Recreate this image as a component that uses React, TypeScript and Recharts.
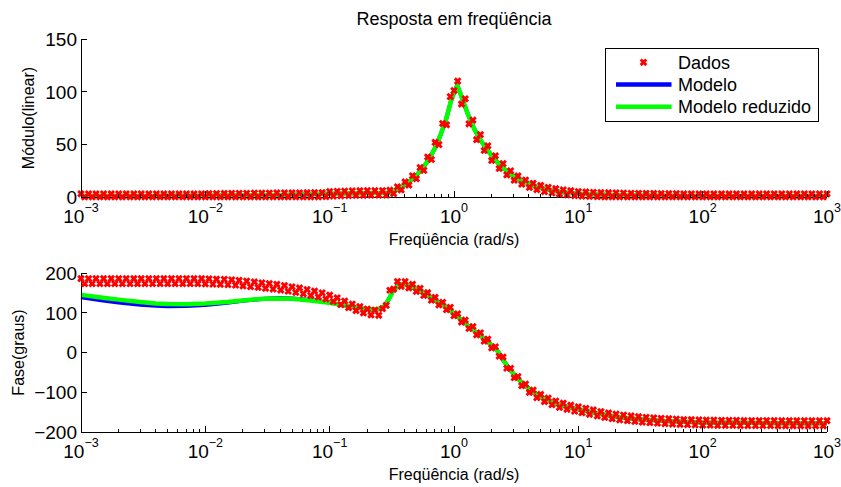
import React from "react";
import { LineChart, Line, XAxis, YAxis, Legend } from "recharts";

// frequências das medidas (rad/s)
const freq = [
  0.001, 0.00107, 0.00115, 0.00123, 0.00132, 0.00142, 0.00152, 0.00163, 0.00175, 0.00187, 0.00201,
  0.00215, 0.00231, 0.00248, 0.00266, 0.00285, 0.00305, 0.00327, 0.00351, 0.00376, 0.00404, 0.00433,
  0.00464, 0.00498, 0.00534, 0.00572, 0.00614, 0.00658, 0.00705, 0.00756, 0.00811, 0.0087, 0.00933,
  0.01, 0.0107, 0.0115, 0.0123, 0.0132, 0.0142, 0.0152, 0.0163, 0.0175, 0.0187, 0.0201,
  0.0215, 0.0231, 0.0248, 0.0266, 0.0285, 0.0305, 0.0327, 0.0351, 0.0376, 0.0404, 0.0433,
  0.0464, 0.0498, 0.0534, 0.0572, 0.0614, 0.0658, 0.0705, 0.0756, 0.0811, 0.087, 0.0933,
  0.1, 0.107, 0.115, 0.123, 0.132, 0.142, 0.152, 0.163, 0.175, 0.187, 0.201,
  0.215, 0.231, 0.248, 0.266, 0.285, 0.305, 0.327, 0.351, 0.376, 0.404, 0.433,
  0.464, 0.498, 0.534, 0.572, 0.614, 0.658, 0.705, 0.756, 0.811, 0.87, 0.933,
  1, 1.07, 1.15, 1.23, 1.32, 1.42, 1.52, 1.63, 1.75, 1.87, 2.01,
  2.15, 2.31, 2.48, 2.66, 2.85, 3.05, 3.27, 3.51, 3.76, 4.04, 4.33,
  4.64, 4.98, 5.34, 5.72, 6.14, 6.58, 7.05, 7.56, 8.11, 8.7, 9.33,
  10, 10.7, 11.5, 12.3, 13.2, 14.2, 15.2, 16.3, 17.5, 18.7, 20.1,
  21.5, 23.1, 24.8, 26.6, 28.5, 30.5, 32.7, 35.1, 37.6, 40.4, 43.3,
  46.4, 49.8, 53.4, 57.2, 61.4, 65.8, 70.5, 75.6, 81.1, 87, 93.3,
  100, 107, 115, 123, 132, 142, 152, 163, 175, 187, 201,
  215, 231, 248, 266, 285, 305, 327, 351, 376, 404, 433,
  464, 498, 534, 572, 614, 658, 705, 756, 811, 870, 933,
  1000,
];

const dadosModulo = [
  3.0, 0, 3.0, 0, 3.0, 0, 3.0, 0, 3.0, 0, 3.0,
  0, 3.0, 0, 3.0, 0, 3.0, 0, 3.0, 0, 3.0, 0,
  3.1, 0, 3.1, 0, 3.1, 0, 3.1, 0, 3.1, 0, 3.1,
  0, 3.3, 0, 3.3, 0, 3.4, 0, 3.5, 0, 3.6, 0,
  3.6, 0, 3.7, 0, 3.7, 0, 3.8, 0, 3.9, 0, 3.9,
  0, 4.0, 0, 4.0, 0, 4.1, 0, 4.2, 0.1, 4.2, 0.2,
  5.2, 0.9, 5.4, 1.1, 5.6, 1.3, 5.8, 1.5, 6.0, 1.6, 6.1,
  1.7, 6.1, 1.7, 6.1, 1.7, 6.5, 3.2, 9.7, 6.7, 14.3, 11.3,
  20.2, 17.3, 28.0, 25.3, 38.0, 35.6, 51.8, 49.7, 69.8, 68.5, 95.3,
  101, 110, 88.2, 93.2, 69.4, 73.0, 54.4, 59.2, 44.1, 48.6, 34.7,
  39.1, 27.1, 31.7, 21.0, 24.8, 15.9, 20.0, 12.1, 16.1, 9.1, 13.1,
  6.9, 11.0, 5.1, 9.3, 3.8, 7.9, 2.8, 6.9, 2.0, 6.0, 1.2,
  5.2, 0.8, 4.8, 0.5, 4.5, 0.2, 4.3, 0, 4.1, 0, 3.9,
  0, 3.8, 0, 3.6, 0, 3.5, 0, 3.4, 0, 3.4, 0,
  3.3, 0, 3.2, 0, 3.2, 0, 3.1, 0, 3.1, 0, 3.1,
  0, 3.0, 0, 3.0, 0, 3.0, 0, 3.0, 0, 3.0, 0,
  3.0, 0, 3.0, 0, 3.0, 0, 3.0, 0, 3.0, 0, 3.0,
  0, 3.0, 0, 3.0, 0, 3.0, 0, 3.0, 0, 3.0, 0,
  3.0,
];

const dadosFase = [
  186, 173, 186, 173, 186, 173, 186, 173, 186, 173, 186,
  173, 186, 173, 186, 173, 186, 173, 186, 173, 186, 173,
  186, 173, 186, 173, 186, 173, 186, 173, 186, 173, 186,
  172.5, 185.5, 172, 184.5, 171.5, 184, 170.5, 183, 169.5, 181.5, 167.5,
  179.5, 165.5, 177.5, 163.5, 175.5, 161.5, 173.5, 159.5, 171.5, 157, 168.5,
  154, 165.5, 151, 162.5, 147.5, 158.5, 143.5, 154.5, 139.5, 150, 134.5,
  144.5, 128.5, 137.5, 120.5, 129.5, 112.5, 122, 105.5, 115.5, 99.5, 109.5,
  94.5, 106.5, 93.5, 110.5, 118.5, 156.5, 159.5, 178.5, 166.5, 178.5, 162.5,
  171.5, 153.5, 161.5, 143.5, 150.5, 131.5, 138.5, 119.5, 126.5, 107.5, 113.5,
  92.5, 97.5, 76.5, 81.5, 60.5, 65.5, 44.5, 49.5, 28.5, 33.5, 11.5,
  14.5, -9.5, -11.5, -39.5, -39.5, -63.5, -60.5, -83.5, -79.5, -100.5, -94.5,
  -113.5, -105.5, -123.5, -114.5, -131.5, -122, -138, -127.5, -143, -132.5, -147.5,
  -136.5, -151.5, -140.5, -155.5, -144.5, -159.5, -148.5, -163.5, -152, -166.5, -155,
  -169.5, -157.5, -171.5, -159.5, -173.5, -161.5, -175.5, -163, -176.5, -164.5, -178,
  -165.5, -179, -166.5, -180, -167.5, -181, -168.5, -181.5, -169, -182.5, -169.5,
  -183, -170, -183, -170, -183.5, -170.5, -183.5, -170.5, -183.5, -170.5, -184,
  -171, -184, -171, -184, -171, -184, -171, -184, -171, -184.5, -171.5,
  -184.5, -171.5, -184.5, -171.5, -184.5, -171.5, -184.5, -171.5, -184.5, -171.5, -184.5,
  -171.5,
];

// curvas dos modelos
const modeloFreq = [
  0.001, 0.0015, 0.002, 0.003, 0.004, 0.005, 0.007, 0.01, 0.015, 0.02,
  0.03, 0.04, 0.05, 0.07, 0.1, 0.13, 0.16, 0.2, 0.23, 0.26,
  0.28, 0.3, 0.32, 0.35, 0.38, 0.42, 0.46, 0.5, 0.56, 0.63,
  0.7, 0.78, 0.86, 0.94, 1.0, 1.06, 1.12, 1.2, 1.3, 1.45,
  1.6, 1.8, 2.0, 2.25, 2.5, 2.8, 3.2, 3.6, 4.2, 5,
  6, 7.5, 10, 14, 20, 30, 50, 100, 200, 500,
  1000,
];

const modeloModulo = [
  1.0, 1.0, 1.0, 1.05, 1.05, 1.1, 1.1, 1.2, 1.35, 1.5,
  1.8, 2.0, 2.2, 2.6, 3.0, 3.35, 3.65, 3.9, 3.9, 3.9,
  3.9, 4.0, 5.0, 7.2, 9.6, 13, 16.8, 20.7, 27.5, 36,
  46, 59, 73, 90, 99, 106, 99, 89, 78, 65,
  55.5, 47, 39.5, 32.5, 27.5, 22.3, 17.8, 14.5, 11.3, 8.5,
  6.4, 4.6, 3.1, 2.35, 1.8, 1.45, 1.2, 1.0, 0.95, 0.9,
  0.9,
];

const reduzidoModulo = [
  1.0, 1.0, 1.0, 1.05, 1.05, 1.1, 1.1, 1.2, 1.35, 1.5,
  1.8, 2.0, 2.2, 2.6, 3.0, 3.35, 3.65, 3.9, 3.9, 3.9,
  3.9, 4.0, 5.0, 7.2, 9.6, 13, 16.8, 20.7, 27.5, 36,
  46, 59, 73, 90, 99, 106, 99, 89, 78, 65,
  55.5, 47, 39.5, 32.5, 27.5, 22.3, 17.8, 14.5, 11.3, 8.5,
  6.4, 4.6, 3.1, 2.35, 1.8, 1.45, 1.2, 1.0, 0.95, 0.9,
  0.9,
];

const modeloFase = [
  139, 131, 126, 120, 117.5, 116.5, 117, 119.5, 125, 130,
  135.5, 137, 136, 132, 125.5, 119, 113.5, 108.5, 107.5, 110.5,
  118.5, 135, 152, 167, 172, 170, 165, 159, 151, 141,
  132, 123, 115, 105, 98, 91, 85, 77, 67, 55,
  45, 31, 19, 3, -20, -42, -63, -79, -96, -112,
  -124, -134, -143, -153, -161.5, -168, -172.5, -176, -177, -178,
  -178,
];

const reduzidoFase = [
  145, 138, 133, 127, 123.5, 122, 121.5, 123, 127, 131,
  135.5, 136, 135, 131, 125, 119, 114, 109, 108, 111,
  119, 135, 152, 167, 172, 170, 165, 159, 151, 141,
  132, 123, 115, 105, 98, 91, 85, 77, 67, 55,
  45, 31, 19, 3, -20, -42, -63, -79, -96, -112,
  -124, -134, -143, -153, -161.5, -168, -172.5, -176, -177, -178,
  -178,
];

const xMajor = [0.001, 0.01, 0.1, 1, 10, 100, 1000];
const xExp = ["\u22123", "\u22122", "\u22121", "0", "1", "2", "3"];
const xMinor = [
  0.002, 0.003, 0.004, 0.005, 0.006, 0.007, 0.008, 0.009,
  0.02, 0.03, 0.04, 0.05, 0.06, 0.07, 0.08, 0.09,
  0.2, 0.3, 0.4, 0.5, 0.6, 0.7, 0.8, 0.9,
  2, 3, 4, 5, 6, 7, 8, 9,
  20, 30, 40, 50, 60, 70, 80, 90,
  200, 300, 400, 500, 600, 700, 800, 900,
];
const moduloTicks = [0, 50, 100, 150];
const faseTicks = [-200, -100, 0, 100, 200];

const RED = "#ff0000";
const BLUE = "#0000ff";
const GREEN = "#00ff00";
const FONT = '"Liberation Sans", Arial, Helvetica, sans-serif';
const xTicks = [...xMajor, ...xMinor];
const axisStyle = { stroke: "#000", strokeWidth: 1, shapeRendering: "crispEdges" };

const pts = (xs: number[], ys: number[]) => xs.map((f, i) => ({ f, v: ys[i] }));

function XMark({ cx, cy }: { cx: number; cy: number }) {
  const r = 2.8;
  return (
    <path
      d={`M${cx - r},${cy - r}L${cx + r},${cy + r}M${cx - r},${cy + r}L${cx + r},${cy - r}`}
      stroke={RED}
      strokeWidth={2.9}
      fill="none"
    />
  );
}

const renderDot = (p: any) =>
  p.cx == null || p.cy == null ? <g key={`d-${p.index}`} /> : <XMark key={`d-${p.index}`} cx={p.cx} cy={p.cy} />;

function XTick(props: any) {
  const { x, y, payload, side } = props;
  const idx = xMajor.indexOf(payload.value);
  const len = idx >= 0 ? 6 : 3.5;
  const dir = side === "top" ? 1 : -1;
  return (
    <g>
      <line x1={x} x2={x} y1={y} y2={y + dir * len} stroke="#000" shapeRendering="crispEdges" />
      {side === "bottom" && idx >= 0 && (
        <text x={x} y={y + 26} textAnchor="middle" fontSize={19} fill="#000">
          10
          <tspan dy={-11} fontSize={12.5}>
            {xExp[idx]}
          </tspan>
        </text>
      )}
    </g>
  );
}

function YTick(props: any) {
  const { x, y, payload, side } = props;
  const dir = side === "left" ? 1 : -1;
  const v = payload.value as number;
  const txt = v < 0 ? "\u2212" + Math.abs(v) : String(v);
  return (
    <g>
      <line x1={x} x2={x + dir * 6} y1={y} y2={y} stroke="#000" shapeRendering="crispEdges" />
      {side === "left" && (
        <text x={x - 4} y={y} dy="0.36em" textAnchor="end" fontSize={19} fill="#000">
          {txt}
        </text>
      )}
    </g>
  );
}

function XTitle(props: any) {
  const vb = props.viewBox;
  return (
    <text x={vb.x + vb.width / 2} y={vb.y + 47.5} textAnchor="middle" fontSize={16} fill="#000">
      Freqüência (rad/s)
    </text>
  );
}

function YTitle(props: any) {
  const vb = props.viewBox;
  const cy = vb.y + vb.height / 2;
  const bx = props.baseX;
  return (
    <text x={bx} y={cy} transform={`rotate(-90 ${bx} ${cy})`} textAnchor="middle" fontSize={16} fill="#000">
      {props.text}
    </text>
  );
}

function LegendBox(props: any) {
  const items = props.payload ?? [];
  return (
    <svg width={214} height={74} style={{ display: "block" }}>
      <rect x={0.5} y={0.5} width={213} height={73} fill="#fff" stroke="#000" />
      {items.map((it: any, i: number) => {
        const cy = 14.3 + i * 22.2;
        return (
          <g key={it.value}>
            {it.value === "Dados" ? (
              <XMark cx={38.5} cy={cy} />
            ) : (
              <line x1={11} x2={66.5} y1={cy} y2={cy} stroke={it.color} strokeWidth={4.5} />
            )}
            <text x={73} y={cy} dy="0.35em" fontSize={18} fill="#000">
              {it.value}
            </text>
          </g>
        );
      })}
    </svg>
  );
}

type PainelProps = {
  h: number;
  top: number;
  bottom: number;
  yDomain: [number, number];
  yTicks: number[];
  yLabel: string;
  yLabelX: number;
  dados: number[];
  modelo: number[];
  reduzido: number[];
  legenda?: boolean;
};

function Painel(p: PainelProps) {
  return (
    <LineChart width={841} height={p.h} margin={{ top: p.top, right: 14, bottom: 0, left: 0 }}>
      <XAxis
        dataKey="f"
        type="number"
        scale="log"
        domain={[0.001, 1000]}
        ticks={xTicks}
        interval={0}
        tickSize={0}
        tickMargin={0}
        tickLine={false}
        axisLine={axisStyle}
        tick={<XTick side="bottom" />}
        height={p.bottom}
        label={<XTitle />}
      />
      <XAxis
        xAxisId="top"
        orientation="top"
        dataKey="f"
        type="number"
        scale="log"
        domain={[0.001, 1000]}
        allowDataOverflow
        ticks={xTicks}
        interval={0}
        tickSize={0}
        tickMargin={0}
        tickLine={false}
        axisLine={axisStyle}
        tick={<XTick side="top" />}
        height={0}
      />
      <YAxis
        type="number"
        domain={p.yDomain}
        ticks={p.yTicks}
        interval={0}
        width={81}
        tickSize={0}
        tickMargin={0}
        tickLine={false}
        axisLine={axisStyle}
        tick={<YTick side="left" />}
        label={<YTitle text={p.yLabel} baseX={p.yLabelX} />}
      />
      <YAxis
        yAxisId="right"
        orientation="right"
        type="number"
        domain={p.yDomain}
        allowDataOverflow
        ticks={p.yTicks}
        interval={0}
        width={0}
        tickSize={0}
        tickMargin={0}
        tickLine={false}
        axisLine={axisStyle}
        tick={<YTick side="right" />}
      />
      <Line
        data={pts(freq, p.dados)}
        dataKey="v"
        name="Dados"
        stroke={RED}
        strokeWidth={0}
        dot={renderDot}
        activeDot={false}
        isAnimationActive={false}
      />
      <Line
        data={pts(modeloFreq, p.modelo)}
        dataKey="v"
        name="Modelo"
        type="linear"
        stroke={BLUE}
        strokeWidth={4}
        strokeLinejoin="round"
        dot={false}
        activeDot={false}
        isAnimationActive={false}
      />
      <Line
        data={pts(modeloFreq, p.reduzido)}
        dataKey="v"
        name="Modelo reduzido"
        type="linear"
        stroke={GREEN}
        strokeWidth={4.5}
        strokeLinejoin="round"
        dot={false}
        activeDot={false}
        isAnimationActive={false}
      />
      {p.legenda && (
        <Legend
          layout="vertical"
          align="center"
          verticalAlign="middle"
          content={<LegendBox />}
          wrapperStyle={{ left: 605, top: 48, width: 214, height: 74 }}
        />
      )}
    </LineChart>
  );
}

export default function App() {
  return (
    <div style={{ position: "absolute", left: 0, top: 0, width: 841, height: 487, background: "#fff", fontFamily: FONT }}>
      <svg width={841} height={32} style={{ position: "absolute", left: 0, top: 0 }}>
        <text x={454} y={25} textAnchor="middle" fontSize={18} fill="#000">
          Resposta em freqüência
        </text>
      </svg>
      <div style={{ position: "absolute", left: 0, top: 0 }}>
        <Painel
          h={250}
          top={39}
          bottom={53}
          yDomain={[0, 150]}
          yTicks={moduloTicks}
          yLabel="Módulo(linear)"
          yLabelX={33.5}
          dados={dadosModulo}
          modelo={modeloModulo}
          reduzido={reduzidoModulo}
          legenda
        />
      </div>
      <div style={{ position: "absolute", left: 0, top: 240 }}>
        <Painel
          h={247}
          top={33}
          bottom={55}
          yDomain={[-200, 200]}
          yTicks={faseTicks}
          yLabel="Fase(graus)"
          yLabelX={23.5}
          dados={dadosFase}
          modelo={modeloFase}
          reduzido={reduzidoFase}
        />
      </div>
    </div>
  );
}
